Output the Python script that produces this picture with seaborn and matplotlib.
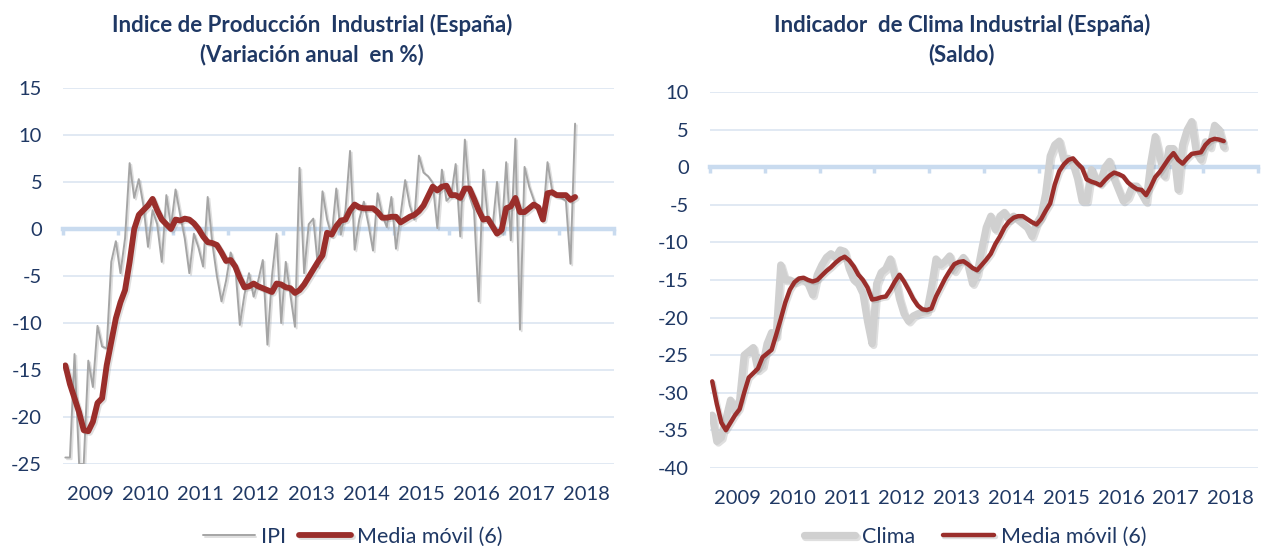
import matplotlib
matplotlib.use('Agg')
import numpy as np
import pandas as pd
import matplotlib.pyplot as plt
import matplotlib.patheffects as pe
import seaborn as sns

# Datos mensuales desde enero 2009 (lectura aproximada del grafico)
ipi = [-24.3, -24.3, -13.3, -25.0, -25.0, -14.0, -16.8, -10.3, -12.5, -12.7,
       -3.5, -1.3, -4.7, -1.0, 7.0, 3.3, 5.3, 2.5, -1.9, 2.0,
       0.5, -3.5, 3.6, 0.2, 4.2, 1.5, -1.0, -4.7, -0.5, -2.0,
       -4.0, 3.4, -1.5, -5.0, -7.7, -5.5, -2.5, -4.0, -10.2, -7.0,
       -4.7, -7.2, -5.5, -3.3, -12.3, -5.0, -0.5, -10.0, -3.5, -7.0,
       -10.4, 6.5, -4.7, 0.5, 1.1, -4.0, 4.0, 1.0, -0.8, 4.3,
       -0.6, 2.0, 8.3, -2.2, 1.0, 2.9, 0.5, -2.3, 3.8, 1.5,
       0.2, 3.4, -2.1, 1.5, 5.2, 2.5, 1.0, 7.8, 6.0, 5.6,
       4.9, 0.1, 6.3, 3.0, 3.5, 6.9, -0.8, 9.5, 3.5, 2.0,
       -7.7, 6.3, 1.0, 0.0, 5.0, -0.5, 7.1, -1.2, 9.6, -10.7,
       6.6, 4.5, 3.1, 2.0, 1.0, 7.1, 4.1, 3.5, 3.3, 3.0,
       -3.7, 11.2]
ipi_mm = [-14.5, -16.5, -18.0, -19.5, -21.4, -21.5, -20.5, -18.5, -18.0, -14.5,
          -12.0, -9.5, -7.8, -6.5, -3.5, 0.0, 1.5, 2.0, 2.5, 3.2,
          2.0, 1.0, 0.5, 0.0, 1.0, 0.9, 1.1, 1.0, 0.6, 0.0,
          -0.8, -1.4, -1.5, -1.7, -2.5, -3.4, -3.3, -4.0, -5.2, -6.2,
          -6.1, -5.8, -6.1, -6.3, -6.5, -6.7, -5.8, -5.9, -6.2, -6.3,
          -6.8, -6.5, -5.9, -5.1, -4.3, -3.5, -2.8, -0.4, -0.6, 0.3,
          0.9, 1.0, 2.0, 2.6, 2.3, 2.2, 2.2, 2.2, 1.8, 1.2,
          1.2, 1.3, 1.3, 0.7, 1.0, 1.3, 1.5, 1.9, 2.5, 3.5,
          4.5, 4.1, 4.5, 4.6, 3.6, 3.6, 3.3, 4.3, 4.3, 3.2,
          2.0, 1.0, 1.1, 0.3, -0.5, -0.1, 2.2, 2.4, 3.3, 1.8,
          1.8, 2.2, 2.6, 2.3, 1.0, 3.8, 3.9, 3.6, 3.6, 3.6,
          3.1, 3.4]

clima = [-33.0, -36.5, -36.0, -33.5, -31.0, -32.5, -31.0, -25.0, -24.5, -24.0,
         -27.0, -26.5, -23.5, -22.0, -22.5, -13.0, -15.0, -15.0, -15.3, -15.0,
         -15.0, -15.5, -17.0, -14.3, -13.0, -12.0, -11.5, -12.0, -11.0, -11.2,
         -13.5, -15.0, -15.5, -16.8, -20.5, -23.5, -15.5, -14.0, -13.5, -12.2,
         -14.5, -17.5, -19.5, -20.5, -19.8, -19.5, -19.3, -19.2, -16.0, -12.2,
         -13.0, -12.5, -11.8, -13.8, -12.8, -12.0, -13.0, -15.5, -14.2, -11.0,
         -8.0, -6.5, -8.3, -6.5, -6.0, -7.0, -6.5, -7.0, -7.5, -8.0,
         -9.2, -7.5, -6.5, -3.5, 1.5, 3.0, 3.5, 1.0, 1.2, 0.5,
         -1.5, -4.5, -4.5, -0.3, -1.5, -2.0, 0.0, 0.8, -1.5, -3.0,
         -4.5, -4.0, -2.5, -2.5, -3.5, -4.6, 0.5, 4.1, 1.4, -1.2,
         2.5, 2.5, -3.0, 3.0, 5.0, 6.1, 2.0, 1.0, 3.4, 2.7,
         5.6, 5.0, 2.7]
clima_mm = [-28.5, -31.5, -34.0, -35.0, -34.0, -33.0, -32.2, -30.0, -28.0, -27.4,
            -26.8, -25.3, -24.8, -24.3, -22.3, -20.2, -18.0, -16.3, -15.3, -14.8,
            -14.7, -15.0, -15.2, -15.0, -14.4, -13.8, -13.3, -12.7, -12.2, -11.9,
            -12.4, -13.2, -14.3, -15.0, -16.0, -17.6, -17.5, -17.3, -17.2, -16.3,
            -15.2, -14.3, -15.2, -16.3, -17.5, -18.4, -18.9, -19.0, -18.8, -17.2,
            -16.0, -14.8, -13.8, -12.9, -12.6, -12.5, -12.9, -13.4, -13.7, -13.0,
            -12.3, -11.5, -10.2, -9.2, -8.0, -7.2, -6.7, -6.5, -6.5, -6.9,
            -7.3, -7.6, -6.9, -5.8, -4.8, -2.3, -0.5, 0.4, 1.0, 1.2,
            0.5, -0.1, -1.6, -1.9, -2.1, -2.4, -1.7, -1.1, -0.7, -0.9,
            -1.2, -2.0, -2.5, -2.9, -3.0, -3.7, -2.6, -1.3, -0.6, 0.3,
            1.2, 1.9, 1.0, 0.5, 1.2, 1.8, 1.9, 2.0, 3.0, 3.6,
            3.8, 3.7, 3.5]

years = ['2009', '2010', '2011', '2012', '2013', '2014', '2015', '2016', '2017', '2018']

BLUE = '#1f3864'
GRID = '#dbe5f1'
ZERO = '#c9dbef'
RED = '#9a2e2b'

sns.set_style('white')
plt.rcParams['font.family'] = ['Lato', 'DejaVu Sans']
plt.rcParams['axes.unicode_minus'] = False

df_ipi = pd.DataFrame({'mes': np.arange(len(ipi)), 'IPI': ipi, 'MM': ipi_mm})
df_cli = pd.DataFrame({'mes': np.arange(len(clima)), 'Clima': clima, 'MM': clima_mm})

fig = plt.figure(figsize=(12.61, 5.46), dpi=100)
ax1 = fig.add_axes([0.050, 0.150, 0.437, 0.689])
ax2 = fig.add_axes([0.563, 0.1434, 0.4346, 0.6876])

shadow = [pe.SimpleLineShadow(offset=(1.2, -1.2), alpha=0.25, shadow_color='gray'), pe.Normal()]

sns.lineplot(data=df_ipi, x='mes', y='IPI', ax=ax1, color='#a5a5a5', lw=1.4,
             label='IPI', zorder=3, path_effects=shadow)
sns.lineplot(data=df_ipi, x='mes', y='MM', ax=ax1, color=RED, lw=4.2,
             label='Media móvil (6)', zorder=4, path_effects=shadow)

sns.lineplot(data=df_cli, x='mes', y='Clima', ax=ax2, color='#d0d0d0', lw=5.2,
             label='Clima', zorder=3, path_effects=shadow)
sns.lineplot(data=df_cli, x='mes', y='MM', ax=ax2, color=RED, lw=3.2,
             label='Media móvil (6)', zorder=4, path_effects=shadow)


def style(ax, ylim, ystep):
    n_months = 12 * len(years)
    ax.set_xlim(-0.5, n_months - 0.5)
    ax.set_ylim(*ylim)
    ax.set_yticks(np.arange(ylim[0], ylim[1] + 1, ystep))
    ax.yaxis.grid(True, color=GRID, lw=1.2)
    ax.xaxis.grid(False)
    ax.set_axisbelow(True)
    for s in ['top', 'right', 'left']:
        ax.spines[s].set_visible(False)
    # eje de categorias cruzando en cero
    ax.spines['bottom'].set_position(('data', 0))
    ax.spines['bottom'].set_color(ZERO)
    ax.spines['bottom'].set_linewidth(3.2)
    ax.spines['bottom'].set_zorder(2.5)
    ax.set_xticks(np.arange(-0.5, n_months, 12))
    ax.tick_params(axis='x', bottom=True, length=4, width=2.5, color=ZERO,
                   direction='out', labelbottom=False)
    ax.tick_params(axis='y', length=0, labelsize=14.5, labelcolor=BLUE, pad=15)
    ax.set_xlabel('')
    ax.set_ylabel('')
    sec = ax.secondary_xaxis('bottom')
    sec.set_xticks(np.arange(5.5, n_months, 12))
    sec.set_xticklabels(years)
    sec.tick_params(length=0, labelsize=14.5, labelcolor=BLUE, pad=16)
    sec.spines['bottom'].set_visible(False)


style(ax1, (-25, 15), 5)
style(ax2, (-40, 10), 5)

for ax, cx, cs in [(ax1, 353 / 1261, 0.6), (ax2, 975 / 1261, 1.3)]:
    ax.legend(loc='center', bbox_to_anchor=(cx, 0.0165), bbox_transform=fig.transFigure,
              ncol=2, frameon=False, fontsize=15.5, handlelength=2.4,
              columnspacing=cs, handletextpad=0.3, labelcolor=BLUE)

fig.text(312 / 1261, 1 - 25 / 546, 'Indice de Producción  Industrial (España)', ha='center',
         va='center', fontsize=16, fontweight='bold', color=BLUE)
fig.text(312 / 1261, 1 - 55 / 546, '(Variación anual  en %)', ha='center',
         va='center', fontsize=16, fontweight='bold', color=BLUE)
fig.text(962 / 1261, 1 - 25 / 546, 'Indicador  de Clima Industrial (España)', ha='center',
         va='center', fontsize=16, fontweight='bold', color=BLUE)
fig.text(962 / 1261, 1 - 55 / 546, '(Saldo)', ha='center',
         va='center', fontsize=16, fontweight='bold', color=BLUE)

fig.savefig('out.png', dpi=100)
